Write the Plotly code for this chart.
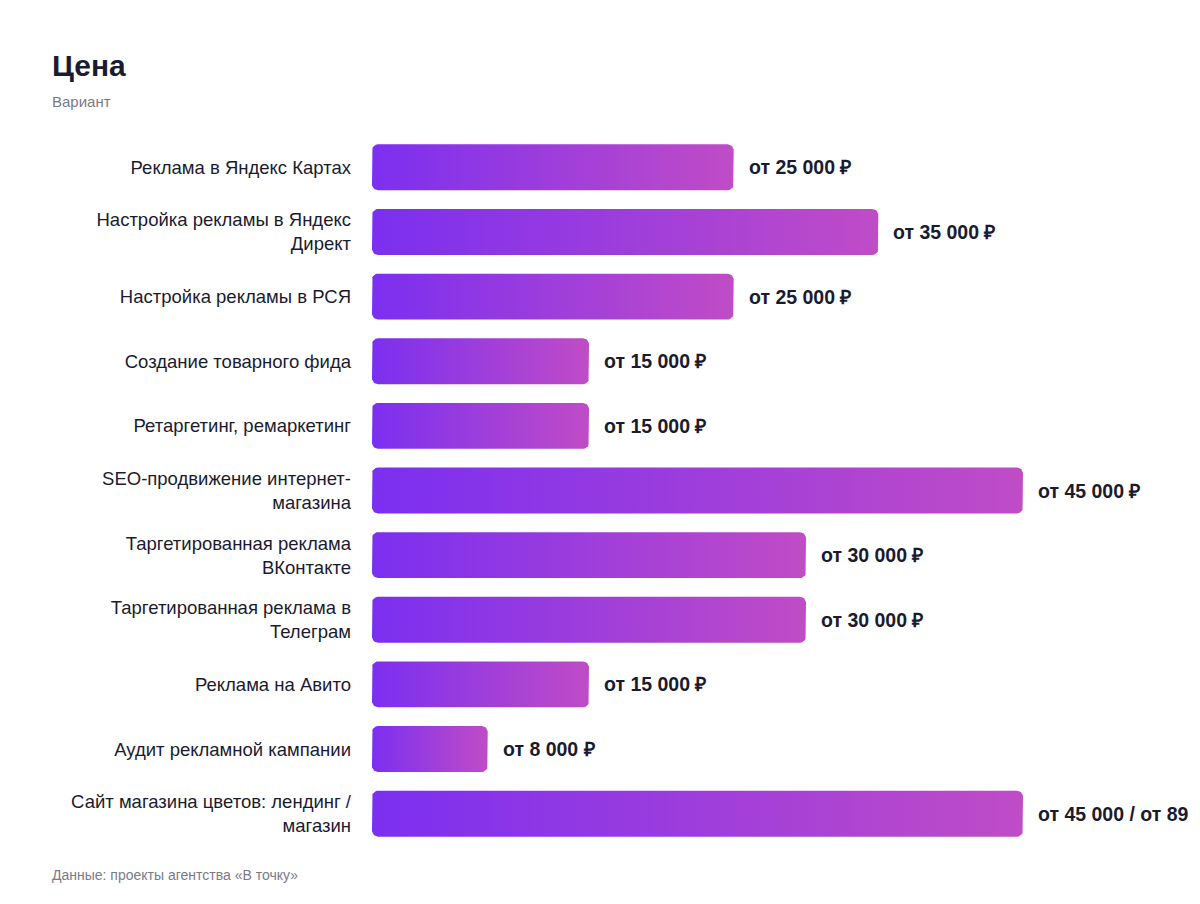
import plotly.graph_objects as go
import math

categories = ["Реклама в Яндекс Картах", "Настройка рекламы в Яндекс<br>Директ", "Настройка рекламы в РСЯ",
              "Создание товарного фида", "Ретаргетинг, ремаркетинг", "SEO-продвижение интернет-<br>магазина",
              "Таргетированная реклама<br>ВКонтакте", "Таргетированная реклама в<br>Телеграм", "Реклама на Авито",
              "Аудит рекламной кампании", "Сайт магазина цветов: лендинг /<br>магазин"]
values = [25000, 35000, 25000, 15000, 15000, 45000, 30000, 30000, 15000, 8000, 45000]
labels = ["от 25 000 ₽", "от 35 000 ₽", "от 25 000 ₽", "от 15 000 ₽", "от 15 000 ₽", "от 45 000 ₽",
          "от 30 000 ₽", "от 30 000 ₽", "от 15 000 ₽", "от 8 000 ₽", "от 45 000 / от 89 000 ₽"]

FONT = "Liberation Sans, Arial, sans-serif"
L, T, B, R = 364, 127, 66, 185
PW, PH = 1200 - L - R, 904 - T - B
half = 0.355
rx = 415.0
ry = 0.093
fig = go.Figure()
for i, v in enumerate(values):
    xs, ys = [], []
    corners = [(v - rx, i - half + ry, -90, 0), (v - rx, i + half - ry, 0, 90),
               (rx, i + half - ry, 90, 180), (rx, i - half + ry, 180, 270)]
    for cx, cy, a0, a1 in corners:
        for k in range(9):
            a = math.radians(a0 + (a1 - a0) * k / 8)
            xs.append(cx + rx * math.cos(a))
            ys.append(cy + ry * math.sin(a))
    xs.append(xs[0]); ys.append(ys[0])
    fig.add_trace(go.Scatter(x=xs, y=ys, mode="lines", line=dict(width=0), fill="toself",
                             fillgradient=dict(type="horizontal",
                                               colorscale=[[0, "#7b2ff0"], [1, "#c04cc6"]]),
                             hoverinfo="skip", showlegend=False))
    fig.add_annotation(x=v, y=i, text="<b>" + labels[i] + "</b>", showarrow=False, xanchor="left",
                       xshift=13, font=dict(size=19.5, color="#1b1b2f", family=FONT))

fig.update_layout(
    width=1200, height=904, plot_bgcolor="white", paper_bgcolor="white",
    margin=dict(l=L, r=R, t=T, b=B),
    font=dict(family=FONT),
    xaxis=dict(range=[0, 45000], visible=False),
    yaxis=dict(range=[10.5, -0.5], tickvals=list(range(len(categories))), ticktext=categories,
               showgrid=False, zeroline=False, showline=False, ticks="", ticklabelstandoff=20,
               tickfont=dict(size=18.5, color="#1b1b2f", family=FONT)),
)
X0 = (42 - L) / PW
fig.add_annotation(text="<b>Цена</b>", xref="paper", yref="paper", x=X0, xanchor="left",
                   y=1 + (T - 57) / PH, yanchor="middle", showarrow=False,
                   font=dict(size=30, color="#1b1b2f", family=FONT))
fig.add_annotation(text="Вариант", xref="paper", yref="paper", x=X0, xanchor="left",
                   y=1 + (T - 94) / PH, yanchor="middle", showarrow=False,
                   font=dict(size=15, color="#7a7a8a", family=FONT))
fig.add_annotation(text="Данные: проекты агентства «В точку»", xref="paper", yref="paper", x=X0,
                   xanchor="left", y=-(867 - (904 - B)) / PH, yanchor="middle", showarrow=False,
                   font=dict(size=14, color="#7a7a8a", family=FONT))
fig.write_html("out.html")
